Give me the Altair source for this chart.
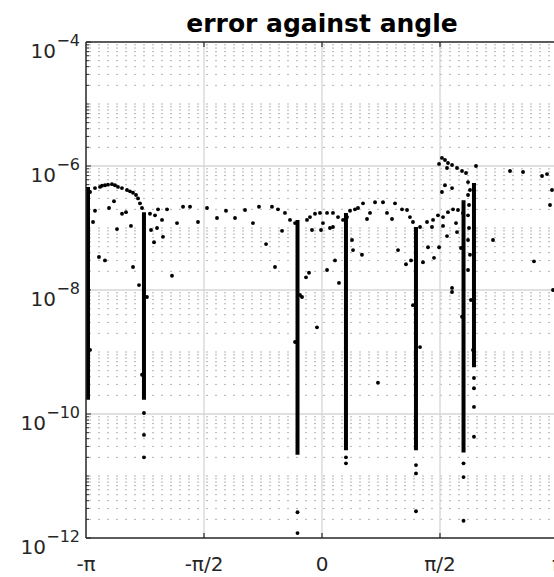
import math
import altair as alt
import pandas as pd

PI = math.pi

# ---------------- data ----------------
# dense vertical streaks of points (angle, top error, bottom error)
col_angle = [-3.115, -2.370, -0.326, 0.319, 1.251, 1.884, 2.023]
col_top = [4.6e-7, 1.8e-7, 1.35e-7, 1.75e-7, 1.04e-7, 2.8e-7, 5.3e-7]
col_bottom = [1.7e-10, 1.7e-10, 2.2e-11, 2.6e-11, 2.6e-11, 2.4e-11, 5.7e-10]

# individual points
pt_angle = [
    # arch between -pi and first streak
    -3.115, -3.088, -3.022, -2.955, -2.929, -2.889, -2.849, -2.796, -2.756, -2.716,
    -2.663, -2.596, -2.556, -2.516, -2.476, -2.449, -2.423, -2.396,
    -3.022, -3.048, -2.835, -2.769, -2.662, -2.609, -2.729, -2.543, -2.969, -2.889,
    -2.516, -2.436, -3.088,
    # between first streak and the one left of 0
    -2.330, -2.396, -2.290, -2.276, -2.236, -2.223, -2.196, -2.183, -2.130, -2.117,
    -2.063, -1.997, -1.930, -1.850, -1.757, -1.651, -1.531, -1.398, -1.278, -1.158,
    -1.025, -0.919, -0.839, -0.745, -0.666, -0.626, -0.586, -0.532, -0.493, -0.426,
    -0.359, -0.359, -0.293, -0.266,
    # arch around 0
    -0.200, -0.160, -0.093, -0.027, 0.067, 0.146, 0.213, 0.280,
    -0.213, -0.173, -0.133, -0.013, 0.013, 0.106, 0.146, 0.173, 0.067, 0.226, -0.067,
    # arch right of 0
    0.333, 0.373, 0.439, 0.479, 0.546, 0.706, 0.812, 0.972, 0.865, 0.639, 0.599,
    0.413, 0.532, 0.399, 0.932, 1.065, 1.132, 1.171, 1.211, 0.745, 1.211, 1.305,
    # arch near pi/2
    1.305, 1.398, 1.478, 1.544, 1.611, 1.677, 1.744, 1.810, 1.877,
    1.012, 1.118, 1.185, 1.344, 1.411, 1.491, 1.558, 1.464, 1.611, 1.664, 1.784,
    1.797, 1.850, 1.731, 1.731, 1.864, 2.010,
    # cluster above 1e-6
    1.597, 1.637, 1.677, 1.731, 1.797, 1.864, 1.917, 1.558, 1.664, 2.050,
    1.637, 1.731, 1.597, 1.944, 1.970,
    # between the two right streaks
    1.944, 1.957, 1.944, 1.957, 1.944, 1.970, 1.944, 1.983,
    # right part
    2.276, 2.503, 2.676, 2.929, 2.995, 3.035, 3.062, 2.822, 3.075,
    # tails of the streaks
    -2.370, -2.370, -2.370, -0.326, -0.326, 0.319, 0.319, 1.251, 1.251, 1.251,
    1.884, 1.884, 1.884, 2.023, 2.023, 2.023, 2.023,
]
pt_err = [
    2.8e-7, 3.8e-7, 4.4e-7, 4.6e-7, 4.8e-7, 4.9e-7, 5.0e-7, 5.1e-7, 4.9e-7, 4.6e-7,
    4.4e-7, 4.1e-7, 3.9e-7, 3.7e-7, 3.4e-7, 3.0e-7, 2.5e-7, 2.1e-7,
    1.9e-7, 1.25e-7, 2.1e-7, 2.7e-7, 1.7e-7, 1.8e-7, 9.6e-8, 1.08e-7, 3.4e-8, 3.0e-8,
    2.35e-8, 1.2e-8, 1.08e-9,
    7.7e-9, 4.3e-10, 1.7e-7, 9.3e-8, 5.9e-8, 1.6e-7, 1.0e-7, 2.0e-7, 1.35e-7, 7.2e-8,
    2.0e-7, 1.7e-8, 1.2e-7, 2.2e-7, 2.2e-7, 1.25e-7, 2.1e-7, 1.45e-7, 1.9e-7, 1.45e-7,
    1.95e-7, 1.2e-7, 2.2e-7, 5.5e-8, 2.2e-7, 2.35e-8, 2.0e-7, 9.0e-8, 1.75e-7, 1.35e-7,
    1.2e-7, 1.45e-9, 8.3e-9, 7.7e-9,
    1.35e-7, 1.5e-7, 1.7e-7, 1.75e-7, 1.75e-7, 1.75e-7, 1.5e-7, 1.35e-7,
    1.6e-8, 1.9e-8, 9.3e-8, 9.3e-8, 1.2e-7, 1.0e-7, 1.04e-7, 3.0e-8, 2.1e-8, 1.3e-8, 2.5e-9,
    1.5e-7, 1.9e-7, 2.0e-7, 2.1e-7, 2.5e-7, 2.6e-7, 2.6e-7, 2.5e-7, 1.75e-7, 1.75e-7, 1.4e-7,
    4.4e-8, 3.7e-8, 6.4e-8, 1.4e-7, 2.0e-7, 1.95e-7, 1.5e-7, 1.25e-7, 3.2e-10, 5.7e-9, 1.2e-9,
    1.04e-7, 1.25e-7, 1.35e-7, 1.6e-7, 1.5e-7, 1.8e-7, 2.0e-7, 1.95e-7, 1.75e-7,
    4.4e-8, 2.6e-8, 3.0e-8, 2.8e-8, 4.9e-8, 3.3e-8, 4.9e-8, 1.04e-7, 1.08e-7, 7.4e-8, 1.2e-7,
    8.6e-8, 4.75e-8, 1.08e-8, 9.3e-9, 3.7e-9, 1.08e-9,
    1.35e-6, 1.25e-6, 1.12e-6, 1.04e-6, 9.3e-7, 8.3e-7, 7.7e-7, 1.08e-6, 9.3e-7, 1.0e-6,
    4.9e-7, 4.4e-7, 3.8e-7, 5.5e-7, 4.1e-7,
    3.4e-7, 2.35e-7, 1.6e-7, 1.0e-7, 6.4e-8, 3.7e-8, 2.1e-8, 6.9e-9,
    6.4e-8, 8.3e-7, 8.0e-7, 6.9e-7, 7.4e-7, 2.35e-7, 4.1e-7, 2.9e-8, 1.0e-8,
    1.04e-10, 4.6e-11, 2.0e-11, 2.6e-12, 1.2e-12, 2.0e-11, 1.6e-11, 1.5e-11, 1.1e-11, 2.7e-12,
    1.6e-11, 9.6e-12, 1.9e-12, 3.8e-10, 2.6e-10, 1.3e-10, 4.3e-11,
]

title_text = "error against angle"

# axes
x_tick_values = [-PI, -PI / 2, 0.0, PI / 2, PI]
x_tick_labels = ["-π", "-π/2", "0", "π/2", "π"]
x_grid_values = [-PI / 2, 0.0, PI / 2]
y_label_values = [1e-4, 1e-6, 1e-8, 1e-10, 1e-12]
y_label_exponents = ["−4", "−6", "−8", "−10", "−12"]
y_grid_major = [1e-6, 1e-8, 1e-10]
y_minor_decades = [1e-5, 1e-7, 1e-9, 1e-11]
minor_multipliers = [2, 3, 4, 5, 6, 7, 8, 9]
decade_bases = [1e-12, 1e-11, 1e-10, 1e-9, 1e-8, 1e-7, 1e-6, 1e-5]

# ---------------- tables ----------------
W, H = 468, 496
X_MAX = -PI + W / 472 * 2 * PI  # plot is cut at the right edge like the reference

df_cols = pd.DataFrame({"angle": col_angle, "top": col_top, "bottom": col_bottom})
df_pts = pd.DataFrame({"angle": pt_angle, "err": pt_err})
minor_vals = [m * b for b in decade_bases for m in minor_multipliers] + y_minor_decades
df_minor = pd.DataFrame({"err": minor_vals})
df_major = pd.DataFrame({"err": y_grid_major})
df_ylab = pd.DataFrame({"err": y_label_values, "exp": y_label_exponents,
                        "base": ["10"] * len(y_label_values)})
df_ylab1 = df_ylab[df_ylab["exp"].str.len() == 2]
df_ylab2 = df_ylab[df_ylab["exp"].str.len() == 3]
df_xgrid = pd.DataFrame({"angle": x_grid_values})
df_xlab = pd.DataFrame({"angle": x_tick_values, "label": x_tick_labels})
df_title = pd.DataFrame({"t": [title_text]})

xs = alt.Scale(domain=[-PI, X_MAX], nice=False, zero=False)
ys = alt.Scale(type="log", domain=[1e-12, 1e-4], nice=False)

AX = "#262626"
FONT = "DejaVu Sans"

X = lambda f: alt.X(f, scale=xs, axis=None)
Y = lambda f: alt.Y(f, scale=ys, axis=None)

minor_grid = alt.Chart(df_minor).mark_rule(color="#b4b4b4", strokeWidth=1,
                                           strokeDash=[2, 7], strokeDashOffset=5).encode(
    y=Y("err:Q"))
major_grid = alt.Chart(df_major).mark_rule(color="#d6d6d6", strokeWidth=1.3).encode(
    y=Y("err:Q"))
x_grid = alt.Chart(df_xgrid).mark_rule(color="#d6d6d6", strokeWidth=1.3).encode(
    x=X("angle:Q"))

y_minor_ticks = alt.Chart(df_minor).mark_rule(color=AX, strokeWidth=1).encode(
    y=Y("err:Q"), x=alt.value(0), x2=alt.value(3))
y_major_ticks = alt.Chart(pd.DataFrame({"err": y_label_values})).mark_rule(
    color=AX, strokeWidth=1).encode(y=Y("err:Q"), x=alt.value(0), x2=alt.value(5))
x_ticks_bottom = alt.Chart(df_xgrid).mark_rule(color=AX, strokeWidth=1.2).encode(
    x=X("angle:Q"), y=alt.value(H), y2=alt.value(H - 5))
x_ticks_top = alt.Chart(df_xgrid).mark_rule(color=AX, strokeWidth=1.2).encode(
    x=X("angle:Q"), y=alt.value(0), y2=alt.value(5))

frame_top = alt.Chart(df_title).mark_rule(color=AX, strokeWidth=1.5).encode(
    x=alt.value(0), x2=alt.value(W), y=alt.value(0))
frame_bottom = alt.Chart(df_title).mark_rule(color=AX, strokeWidth=1.5).encode(
    x=alt.value(0), x2=alt.value(W), y=alt.value(H))
frame_left = alt.Chart(df_title).mark_rule(color=AX, strokeWidth=1.5).encode(
    x=alt.value(0), y=alt.value(0), y2=alt.value(H))

streaks = alt.Chart(df_cols).mark_rule(color="black", strokeWidth=4).encode(
    x=X("angle:Q"), y=Y("top:Q"), y2="bottom:Q")

points = alt.Chart(df_pts).mark_circle(size=15, color="black", opacity=1).encode(
    x=X("angle:Q"), y=Y("err:Q"))

x_labels = alt.Chart(df_xlab).mark_text(align="center", baseline="alphabetic",
                                        fontSize=20, font=FONT, color=AX).encode(
    x=X("angle:Q"), y=alt.value(H + 33), text="label:N")


def ylabels(df, base_dx):
    base = alt.Chart(df).mark_text(align="right", baseline="alphabetic", dx=base_dx, dy=16,
                                   fontSize=20, font=FONT, color=AX).encode(
        y=Y("err:Q"), x=alt.value(0), text="base:N")
    exp = alt.Chart(df).mark_text(align="right", baseline="alphabetic", dx=-6, dy=3.5,
                                  fontSize=16, font=FONT, color=AX).encode(
        y=Y("err:Q"), x=alt.value(0), text="exp:N")
    return base + exp


title = alt.Chart(df_title).mark_text(align="center", baseline="alphabetic", fontSize=25,
                                      fontWeight="bold", font=FONT, color="black").encode(
    x=alt.value(236), y=alt.value(-10), text="t:N")

chart = alt.layer(
    minor_grid, major_grid, x_grid, y_minor_ticks, y_major_ticks,
    x_ticks_bottom, x_ticks_top, streaks, points,
    frame_top, frame_bottom, frame_left,
    x_labels, ylabels(df_ylab1, -30), ylabels(df_ylab2, -40), title,
).properties(
    width=W, height=H,
    padding={"left": 86, "top": 42, "right": 0, "bottom": 39},
    autosize=alt.AutoSizeParams(type="none"),
).configure_view(strokeWidth=0)

chart.save("out.html", embed_options={"renderer": "svg", "actions": False})
